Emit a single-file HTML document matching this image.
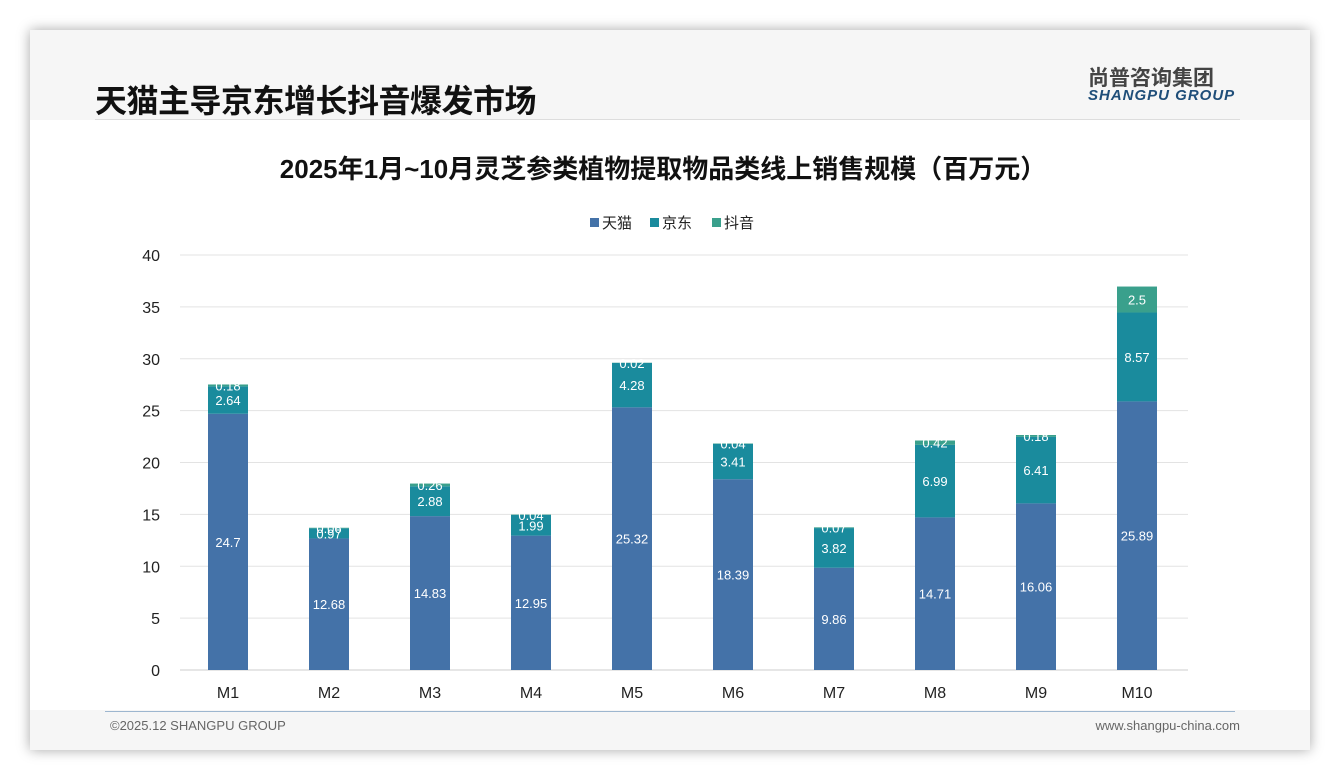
<!DOCTYPE html>
<html><head><meta charset="utf-8">
<style>
body{margin:0;width:1340px;height:780px;background:#fff;font-family:"Liberation Sans","Noto Sans CJK SC",sans-serif;overflow:hidden;position:relative}
#card{position:absolute;left:30px;top:30px;width:1280px;height:720px;background:#f6f6f6;box-shadow:0 0 12px rgba(0,0,0,.35)}
#title{position:absolute;left:65px;top:46px;font-size:32px;font-weight:bold;color:#111;letter-spacing:-0.5px}
#logo-cn{position:absolute;left:1058px;top:32px;font-size:21px;font-weight:bold;color:#444}
#logo-en{position:absolute;left:1058px;top:57px;font-size:15px;font-weight:bold;font-style:italic;color:#1f4e79;letter-spacing:1px}
#hline{position:absolute;left:65px;top:89px;width:1145px;height:1px;background:#ddd}
#plot{position:absolute;left:30px;top:120px;width:1280px;height:590px;background:#fff}
#fline{position:absolute;left:75px;top:681px;width:1130px;height:1px;background:#9db6cf}
.foot{position:absolute;top:688px;font-size:13px;color:#666}
</style></head><body>
<div id="card">
<div id="title">天猫主导京东增长抖音爆发市场</div>
<div id="logo-cn">尚普咨询集团</div>
<div id="logo-en">SHANGPU GROUP</div>
<div id="hline"></div>
<div id="fline"></div>
<div class="foot" style="left:80px">©2025.12 SHANGPU GROUP</div>
<div class="foot" style="right:70px">www.shangpu-china.com</div>
</div>
<div id="plot"></div>
<svg id="chart" width="1340" height="780" style="position:absolute;left:0;top:0"></svg>
<script>
const categories=["M1","M2","M3","M4","M5","M6","M7","M8","M9","M10"];
const tmall=[24.7,12.68,14.83,12.95,25.32,18.39,9.86,14.71,16.06,25.89];
const jd=[2.64,0.97,2.88,1.99,4.28,3.41,3.82,6.99,6.41,8.57];
const douyin=[0.18,0.06,0.26,0.04,0.02,0.04,0.07,0.42,0.18,2.5];
const yTicks=[0,5,10,15,20,25,30,35,40];
const seriesNames=["天猫","京东","抖音"];
const colors=["#4472a8","#1a8b9d","#3aa08c"];
const NS="http://www.w3.org/2000/svg";
const svg=document.getElementById('chart');
const y=v=>670-v*10.375;
const x=i=>228+i*101;
function mk(t,a,txt){const e=document.createElementNS(NS,t);for(const k in a)e.setAttribute(k,a[k]);if(txt!==undefined)e.textContent=txt;svg.appendChild(e);return e;}
let e=mk('text',{x:663,y:178,'text-anchor':'middle','font-size':26,'font-weight':'bold',fill:'#111'},'2025年1月~10月灵芝参类植物提取物品类线上销售规模（百万元）');


yTicks.forEach(t=>{
 const l=mk('line',{x1:180,x2:1188,y1:y(t),y2:y(t),stroke:t===0?'#ccc':'#e3e3e3','stroke-width':1});
 
 
 const tx=mk('text',{x:160,y:y(t)+6,'text-anchor':'end','font-size':16,fill:'#222'},t);
 
 
});
const series=[tmall,jd,douyin];
categories.forEach((c,i)=>{
 let base=0;
 series.forEach((s,k)=>{
  const v=s[i];
  const r=mk('rect',{x:x(i)-20,y:y(base+v),width:40,height:y(base)-y(base+v),fill:colors[k]});
  
  
  const mid=(y(base)+y(base+v))/2;
  const t=mk('text',{x:x(i),y:mid+5,'text-anchor':'middle','font-size':13,fill:'#fff'},v);
  
  
  base+=v;
 });
 const t=mk('text',{x:x(i),y:698,'text-anchor':'middle','font-size':16,fill:'#222'},c);
 
 
});
const lx=[590,650,712];
seriesNames.forEach((n,k)=>{
 const r=mk('rect',{x:lx[k],y:218,width:9,height:9,fill:colors[k]});
 
 
 const t=mk('text',{x:lx[k]+12,y:228,'font-size':15,fill:'#222'},n);
 
 
});
</script>
</body></html>
